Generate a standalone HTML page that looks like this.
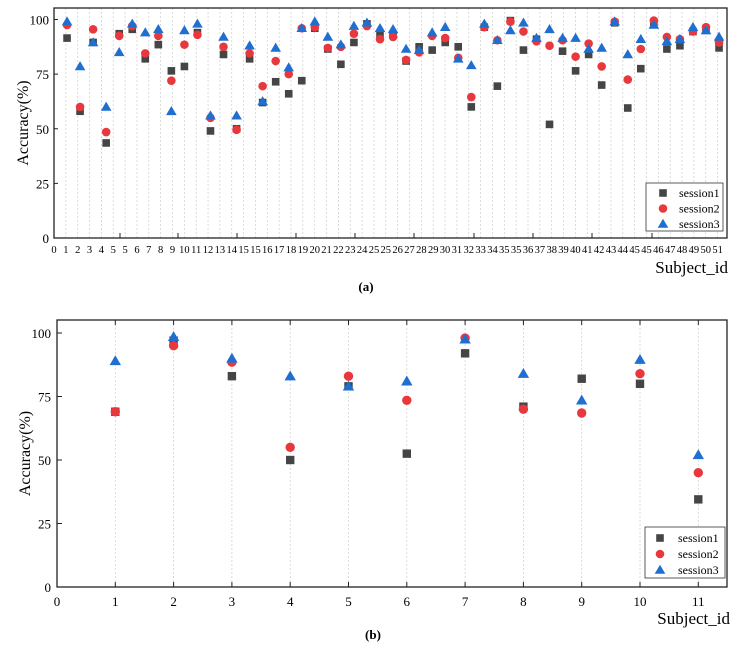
<!DOCTYPE html>
<html><head><meta charset="utf-8"><style>
body{margin:0;background:#fff}
svg{display:block;font-family:"Liberation Serif",serif}
</style></head><body>
<svg id="s" width="740" height="655" viewBox="0 0 740 655" xmlns="http://www.w3.org/2000/svg"></svg>
<script>
const S=document.getElementById('s');let h='';
const C1='#454545',C2='#e8383d',C3='#1f6fd1';
function mk(t,x,y,r){
 if(t==0)return `<rect x="${x-r}" y="${y-r}" width="${2*r}" height="${2*r}" fill="${C1}"/>`;
 if(t==1)return `<circle cx="${x}" cy="${y}" r="${r+0.5}" fill="${C2}"/>`;
 return `<polygon points="${x},${y-r-1.5} ${x-r-1.5},${y+r} ${x+r+1.5},${y+r}" fill="${C3}"/>`;
}
// Chart A
const A=[[91.5,97.5,99],[58,60,78.5],[89.5,95.5,89.5],[43.5,48.5,60],[93.5,92.5,85],[95.5,97,98],[82,84.5,94],[88.5,92.5,95.5],[76.5,72,58],[78.5,88.5,95],[94,93,98],[49,55,56],[84,87.5,92],[50,49.5,56],[82,84.5,88],[62,69.5,62.5],[71.5,81,87],[66,75,78],[72,96,96],[96,96.5,99],[86.5,87,92],[79.5,87.5,88.5],[89.5,93.5,97],[98,97,98.5],[93,91,96],[93,92,95.5],[81,81.5,86.5],[87.5,85,86],[86,92.5,94],[89.5,91.5,96.5],[87.5,82.5,82],[60,64.5,79],[96.5,96.5,98],[69.5,90.5,90.5],[99.5,99,95],[86,94.5,98.5],[91,90,91.5],[52,88,95.5],[85.5,90.5,91.5],[76.5,83,91.5],[84,89,86.5],[70,78.5,87],[98.5,99,99],[59.5,72.5,84],[77.5,86.5,91],[98,99.5,97.5],[86.5,92,90],[88,91,91],[94.5,94.5,96.5],[95,96.5,95],[87,89.5,92]];
let L=54,R=727,T=8,B=238,ky=2.185;
const labs=[0,1,2,3,4,5,5,6,7,8,9,10,11,12,13,14,15,15,16,17,18,19,20,21,22,23,24,25,25,26,27,28,29,30,31,32,33,34,35,35,36,37,38,39,40,41,42,43,44,45,45,46,47,48,49,50,51];
labs.forEach((l,i)=>{const x=54+i*11.85;
 if(i>0)h+=`<line x1="${x}" y1="${T}" x2="${x}" y2="${B}" stroke="#ccc" stroke-width="0.7" stroke-dasharray="2,2"/>`;
 h+=`<text x="${x}" y="${B+15}" font-size="10.5" text-anchor="middle">${l}</text>`;});
[0,25,50,75,100].forEach(v=>{const y=B-v*ky;h+=`<line x1="${L}" y1="${y}" x2="${L+4}" y2="${y}" stroke="#222"/><text x="${L-5}" y="${y+5}" font-size="13" text-anchor="end">${v}</text>`});
[120,178,237,296,355,414,474,533,592,652].forEach(x=>{h+=`<line x1="${x}" y1="${B}" x2="${x}" y2="${B-5}" stroke="#222"/>`});
A.forEach((d,i)=>{const x=54+(i+1)*13.04;for(let t=0;t<3;t++)h+=mk(t,x,B-d[t]*ky,3.8);});
h+=`<rect x="${L}" y="${T}" width="${R-L}" height="${B-T}" fill="none" stroke="#222" stroke-width="1.3"/>`;
h+=`<text x="28" y="${(T+B)/2}" font-size="16" text-anchor="middle" transform="rotate(-90 28 ${(T+B)/2})">Accuracy(%)</text>`;
h+=`<text x="728" y="273" font-size="17" text-anchor="end">Subject_id</text>`;
h+=`<text x="366" y="291" font-size="13" font-weight="bold" text-anchor="middle">(a)</text>`;
h+=`<rect x="646" y="183" width="77" height="48" fill="#fff" stroke="#333" stroke-width="0.8"/>`;
['session1','session2','session3'].forEach((s,i)=>{const y=193+i*15.5;h+=mk(i,663,y,3.8)+`<text x="679" y="${y+4}" font-size="12">${s}</text>`;});
// Chart B
const Bd=[[69,69,89],[97,95,98.5],[83,88.5,90],[50,55,83],[79,83,79],[52.5,73.5,81],[92,98,97.5],[71,70,84],[82,68.5,73.5],[80,84,89.5],[34.5,45,52]];
L=57;R=727;T=320;B=587;ky=2.54;
for(let k=0;k<=11;k++){const x=57+k*58.3;
 if(k>0){h+=`<line x1="${x}" y1="${T}" x2="${x}" y2="${B}" stroke="#ccc" stroke-width="0.7" stroke-dasharray="2,2"/><line x1="${x}" y1="${T}" x2="${x}" y2="${T+5}" stroke="#222"/><line x1="${x}" y1="${B}" x2="${x}" y2="${B-5}" stroke="#222"/>`;}
 h+=`<text x="${x}" y="${B+19}" font-size="13" text-anchor="middle">${k}</text>`;}
[0,25,50,75,100].forEach(v=>{const y=B-v*ky;h+=`<line x1="${L}" y1="${y}" x2="${L+5}" y2="${y}" stroke="#222"/><text x="${L-6}" y="${y+5}" font-size="13" text-anchor="end">${v}</text>`});
Bd.forEach((d,i)=>{const x=57+(i+1)*58.3;for(let t=0;t<3;t++)h+=mk(t,x,B-d[t]*ky,4.2);});
h+=`<rect x="${L}" y="${T}" width="${R-L}" height="${B-T}" fill="none" stroke="#222" stroke-width="1.3"/>`;
h+=`<text x="30" y="${(T+B)/2}" font-size="16" text-anchor="middle" transform="rotate(-90 30 ${(T+B)/2})">Accuracy(%)</text>`;
h+=`<text x="730" y="624" font-size="17" text-anchor="end">Subject_id</text>`;
h+=`<text x="373" y="639" font-size="13" font-weight="bold" text-anchor="middle">(b)</text>`;
h+=`<rect x="645" y="527" width="80" height="51" fill="#fff" stroke="#333" stroke-width="0.8"/>`;
['session1','session2','session3'].forEach((s,i)=>{const y=538+i*16;h+=mk(i,660,y,3.8)+`<text x="678" y="${y+4}" font-size="12">${s}</text>`;});
S.innerHTML=h;
</script>
</body></html>
